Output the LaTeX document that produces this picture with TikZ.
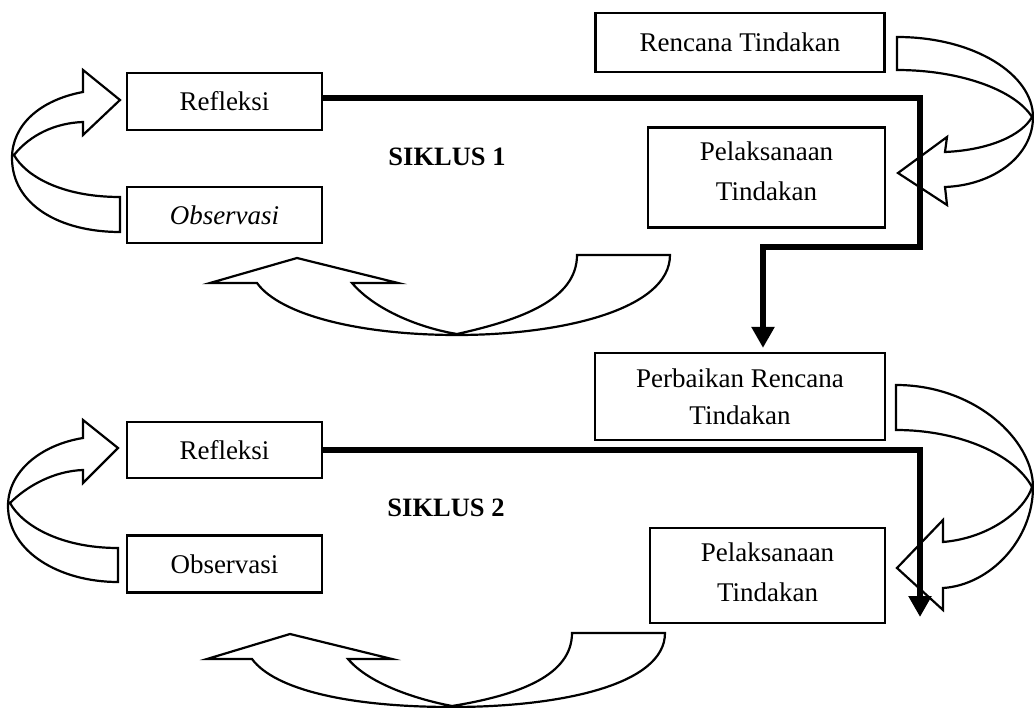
\documentclass[tikz,border=0pt]{standalone}
\usepackage{fontspec}
\setmainfont{Liberation Serif}
\usetikzlibrary{arrows.meta,calc}
\begin{document}
\begin{tikzpicture}[x=1pt,y=-1pt,
  box/.style={draw,line width=2.2pt,fill=white,inner sep=0pt,align=center,
    font=\fontsize{27}{37}\selectfont},
  lbl/.style={font=\fontsize{26.5}{32}\selectfont\bfseries},
  bent/.style={draw,line width=2.2pt,fill=white,line join=miter},
  bigline/.style={line width=6pt,line join=miter,-{Triangle[width=22pt,length=21pt]}}]
\useasboundingbox (0,0) rectangle (1034,708);
% curved arrows (drawn first)
\path[bent] (897,37) .. controls (975,37) and (1033,75) .. (1033,117)
  .. controls (1033,155) and (995,185) .. (945,187) -- (947,205) -- (898,173)
  -- (947,137) -- (945,152) .. controls (990,150) and (1022,135) .. (1032,117)
  .. controls (1015,90) and (960,70) .. (897,70) -- cycle;
\path[bent] (120,232) -- (120,197) .. controls (60,197) and (25,175) .. (14,155)
  .. controls (30,135) and (55,123) .. (83,122) -- (83,135) -- (120,100)
  -- (83,70) -- (83,92) .. controls (40,100) and (12,125) .. (12,158)
  .. controls (12,205) and (60,232) .. (120,232) -- cycle;
\path[bent] (577,255) -- (670,255) .. controls (670,310) and (560,335) .. (457,335)
  .. controls (360,335) and (280,315) .. (257,283) -- (210,283) -- (297,258)
  -- (398,283) -- (352,283) .. controls (375,310) and (420,328) .. (457,334)
  .. controls (520,320) and (577,300) .. (577,255) -- cycle;
\path[bent] (896,385) .. controls (975,385) and (1033,440) .. (1033,487)
  .. controls (1033,540) and (990,585) .. (943,588) -- (943,610) -- (897,568)
  -- (943,520) -- (943,542) .. controls (990,538) and (1025,510) .. (1032,487)
  .. controls (1015,455) and (960,430) .. (896,430) -- cycle;
\path[bent] (118,582) -- (118,548) .. controls (60,548) and (22,525) .. (10,503)
  .. controls (28,485) and (55,471) .. (83,470) -- (83,483) -- (118,448)
  -- (83,420) -- (83,438) .. controls (40,445) and (8,472) .. (8,506)
  .. controls (8,552) and (60,582) .. (118,582) -- cycle;
\path[bent] (572,633) -- (665,633) .. controls (665,685) and (560,707) .. (452,707)
  .. controls (350,707) and (275,690) .. (252,659) -- (207,659) -- (290,634)
  -- (392,659) -- (348,659) .. controls (370,685) and (420,700) .. (452,706)
  .. controls (520,695) and (572,675) .. (572,633) -- cycle;
% boxes
\node[box,minimum width=289pt,minimum height=59pt] (ren) at (740,42.5) {Rencana Tindakan};
\node[box,minimum width=237pt,minimum height=100pt] (pel1) at (766.5,177.5) {Pelaksanaan\\[3pt]Tindakan\\[-24pt]\mbox{}};
\node[box,minimum width=195pt,minimum height=57pt] (ref1) at (224.5,101.5) {Refleksi};
\node[box,minimum width=195pt,minimum height=56pt] (obs1) at (224.5,215) {\itshape Observasi};
\node[box,minimum width=290pt,minimum height=87pt] (perb) at (740,396.5) {Perbaikan Rencana\\Tindakan};
\node[box,minimum width=195pt,minimum height=56pt] (ref2) at (224.5,450) {Refleksi};
\node[box,minimum width=195pt,minimum height=57pt] (obs2) at (224.5,564) {Observasi};
\node[box,minimum width=235pt,minimum height=95pt] (pel2) at (767.5,575.5) {Pelaksanaan\\[3pt]Tindakan\\[-30pt]\mbox{}};
\node[lbl] (s1) at (447,157) {SIKLUS 1};
\node[lbl] (s2) at (446,508) {SIKLUS 2};
% thick connectors
\coordinate (k1) at (920,247);
\coordinate (k2) at (920,617);
\draw[bigline] ($(ref1.east)+(0,-3)$) -| (k1) -| ($(perb.north)+(23,-4)$);
\draw[bigline] (ref2.east) -| (k2);
\end{tikzpicture}
\end{document}
